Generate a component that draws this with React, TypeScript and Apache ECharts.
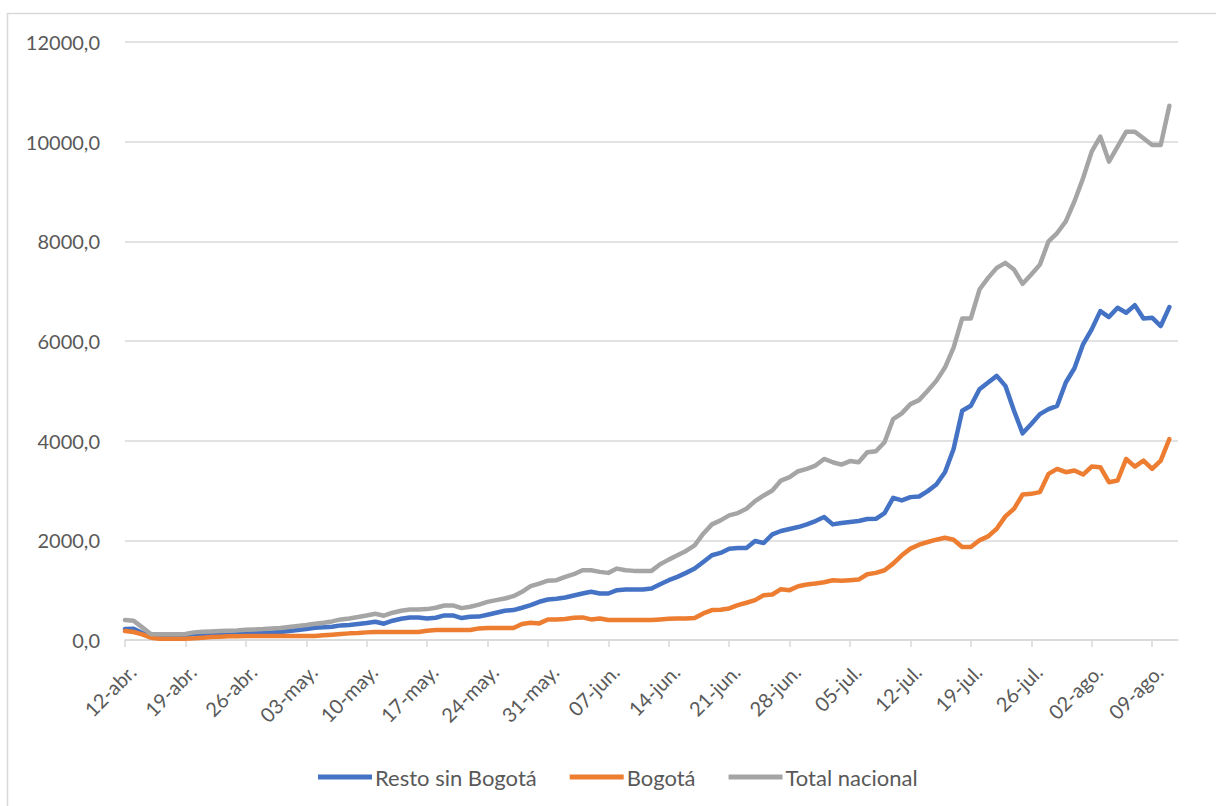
import React, { useEffect, useRef } from "react";
import * as echarts from "echarts";

// Category axis: daily dates from 12-abr. to 12-ago.
const MONTHS = ["abr.", "may.", "jun.", "jul.", "ago."];
const MONTH_DAYS = [30, 31, 30, 31, 31];
const START_DAY = 12;
const N_CATEGORIES = 123;
const LABEL_EVERY = 7;

const Y_TICKS = [0, 2000, 4000, 6000, 8000, 10000, 12000];

const SERIES_NAMES = ["Resto sin Bogotá", "Bogotá", "Total nacional"];
const SERIES_COLORS = ["#4472C4", "#ED7D31", "#A5A5A5"];

const resto = [
  220, 227, 140, 73, 86, 86, 86, 93, 120, 120,
  113, 113, 114, 120, 127, 133, 140, 153, 160, 180,
  200, 220, 247, 254, 266, 293, 300, 320, 340, 367,
  327, 387, 427, 453, 453, 433, 447, 493, 493, 440,
  467, 470, 507, 547, 587, 600, 647, 700, 767, 813,
  827, 853, 893, 933, 967, 933, 933, 1000, 1013, 1013,
  1013, 1033, 1120, 1200, 1267, 1347, 1433, 1567, 1700, 1747,
  1833, 1847, 1847, 1987, 1947, 2120, 2187, 2227, 2267, 2320,
  2387, 2467, 2320, 2347, 2367, 2387, 2427, 2433, 2547, 2853,
  2800, 2867, 2880, 2987, 3120, 3367, 3833, 4600, 4700, 5033,
  5167, 5300, 5100, 4600, 4147, 4333, 4533, 4633, 4700, 5167,
  5453, 5933, 6233, 6600, 6480, 6667, 6567, 6720, 6453, 6467,
  6300, 6680,
];

const bogota = [
  180, 160, 113, 47, 27, 27, 27, 27, 33, 47,
  60, 67, 73, 73, 80, 80, 80, 80, 80, 80,
  80, 80, 80, 93, 107, 120, 133, 140, 153, 160,
  160, 160, 160, 160, 160, 187, 200, 200, 200, 200,
  200, 233, 240, 240, 240, 240, 320, 347, 333, 413,
  413, 420, 447, 453, 413, 433, 400, 400, 400, 400,
  400, 400, 413, 427, 433, 433, 440, 533, 600, 607,
  633, 700, 747, 800, 900, 913, 1020, 1000, 1080, 1113,
  1133, 1160, 1200, 1190, 1200, 1213, 1320, 1347, 1400, 1533,
  1700, 1833, 1913, 1967, 2013, 2053, 2013, 1867, 1867, 2000,
  2080, 2233, 2480, 2633, 2920, 2933, 2967, 3333, 3433, 3367,
  3400, 3320, 3480, 3467, 3167, 3200, 3633, 3480, 3600, 3433,
  3600, 4033,
];

const total = [
  400, 387, 253, 120, 113, 113, 113, 120, 153, 167,
  173, 180, 187, 193, 207, 213, 220, 233, 240, 260,
  280, 300, 327, 347, 373, 413, 433, 460, 493, 527,
  487, 547, 587, 613, 613, 620, 647, 693, 693, 640,
  667, 710, 765, 800, 833, 880, 967, 1080, 1133, 1190,
  1200, 1267, 1320, 1400, 1400, 1367, 1347, 1433, 1400, 1387,
  1387, 1387, 1520, 1613, 1700, 1787, 1900, 2133, 2320, 2400,
  2500, 2547, 2633, 2787, 2900, 3000, 3200, 3267, 3387, 3433,
  3500, 3633, 3567, 3520, 3590, 3567, 3767, 3787, 3967, 4433,
  4547, 4733, 4813, 5000, 5200, 5467, 5867, 6453, 6453, 7033,
  7267, 7467, 7567, 7433, 7147, 7333, 7533, 8000, 8167, 8400,
  8800, 9267, 9800, 10100, 9600, 9900, 10200, 10200, 10067, 9933,
  9933, 10720,
];

function buildCategories(): string[] {
  const out: string[] = [];
  let m = 0;
  let d = START_DAY;
  while (out.length < N_CATEGORIES) {
    out.push(String(d).padStart(2, "0") + "-" + MONTHS[m]);
    d++;
    if (d > MONTH_DAYS[m]) {
      d = 1;
      m++;
    }
  }
  return out;
}

const FONT = "Lato";
const TEXT_COLOR = "#595959";
const GRID_COLOR = "#d9d9d9";

export default function App() {
  const ref = useRef<HTMLDivElement>(null);
  useEffect(() => {
    const chart = echarts.init(ref.current!, null, { renderer: "svg" });
    const categories = buildCategories();
    const data = [resto, bogota, total];
    const every = (i: number) => i % LABEL_EVERY === 0;
    chart.setOption({
      animation: false,
      backgroundColor: "#ffffff",
      textStyle: { fontFamily: FONT },
      graphic: [
        {
          type: "rect",
          silent: true,
          z: -10,
          shape: { x: 7.5, y: 13.5, width: 1230, height: 820 },
          style: { fill: "none", stroke: GRID_COLOR, lineWidth: 1.5 },
        },
      ],
      grid: { left: 125, right: 38, top: 42, bottom: 166, containLabel: false },
      legend: {
        left: 313,
        top: 761,
        icon: "rect",
        itemWidth: 54,
        itemHeight: 5,
        itemGap: 33,
        textStyle: { fontFamily: FONT, fontSize: 22, color: TEXT_COLOR, padding: [0, 0, 0, -2] },
        data: SERIES_NAMES,
      },
      xAxis: {
        type: "category",
        data: categories,
        boundaryGap: false,
        axisLine: { lineStyle: { color: GRID_COLOR, width: 1.5 } },
        axisTick: {
          interval: every,
          length: 7,
          lineStyle: { color: GRID_COLOR, width: 1.5 },
        },
        axisLabel: {
          interval: every,
          rotate: 45,
          margin: 21,
          verticalAlign: "top",
          fontFamily: FONT,
          fontSize: 20,
          color: TEXT_COLOR,
        },
        splitLine: { show: false },
      },
      yAxis: {
        type: "value",
        min: Y_TICKS[0],
        max: Y_TICKS[Y_TICKS.length - 1],
        interval: 2000,
        axisLine: { show: false },
        axisTick: { show: false },
        axisLabel: {
          margin: 25,
          fontFamily: FONT,
          fontSize: 20,
          color: TEXT_COLOR,
          formatter: (v: number) => v.toFixed(1).replace(".", ","),
        },
        splitLine: { lineStyle: { color: GRID_COLOR, width: 1.5 } },
      },
      series: SERIES_NAMES.map((name, i) => ({
        name,
        type: "line",
        data: data[i],
        symbol: "none",
        smooth: false,
        color: SERIES_COLORS[i],
        itemStyle: { color: SERIES_COLORS[i] },
        lineStyle: { color: SERIES_COLORS[i], width: 4.5, join: "round", cap: "round" },
      })),
    });
    return () => chart.dispose();
  }, []);
  return (
    <div
      ref={ref}
      style={{ position: "absolute", left: 0, top: 0, width: 1216, height: 806, background: "#fff" }}
    />
  );
}
